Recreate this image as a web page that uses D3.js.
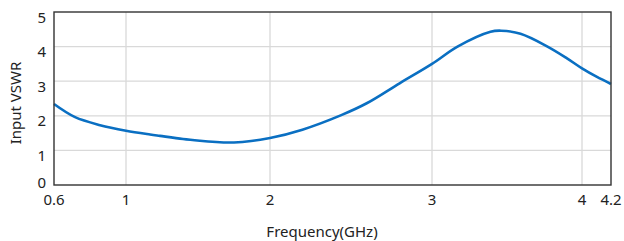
<!DOCTYPE html>
<html>
<script src='https://d3js.org/d3.v7.min.js'></script>
<style>
 body {margin: 0; background: #fff;}
 text {font-family: 'Noto Sans', 'Open Sans', sans-serif; font-size: 15px; fill: #222;}
</style>
<body onload='init()'>
<svg width=624 height=241></svg>
<script>
// frequency (GHz) and input VSWR
var freq = [0.6, 0.717, 0.856, 1.0, 1.167, 1.236, 1.396, 1.514, 1.6, 1.75, 2.0, 2.2, 2.44, 2.6, 2.8, 3.0, 3.17, 3.39, 3.46, 3.59, 3.77, 3.9, 4.0, 4.1, 4.2];
var vswr = [2.34, 1.96, 1.73, 1.57, 1.46, 1.42, 1.33, 1.28, 1.25, 1.23, 1.36, 1.60, 2.02, 2.37, 2.94, 3.5, 4.0, 4.43, 4.46, 4.37, 4.0, 3.66, 3.37, 3.13, 2.92];
var xTicks = [0.6, 1, 2, 3, 4, 4.2];
var yTicks = [0, 1, 2, 3, 4, 5];

function init() {
 var svg = d3.select("svg");
 // the original axis is not evenly spaced, so map each labelled tick to its place
 var x = d3.scaleLinear().domain(xTicks).range([54, 126, 270, 432, 582, 611]);
 var y = d3.scaleLinear().domain([0, 5]).range([185, 12]);

 var g = svg.append("g");
 g.selectAll(".vg").data(xTicks.slice(1, -1)).enter().append("line")
  .attr("x1", d => x(d)).attr("x2", d => x(d))
  .attr("y1", y(0)).attr("y2", y(5))
  .attr("stroke", "#d9d9d9").attr("stroke-width", 1.3);
 g.selectAll(".hg").data(yTicks.slice(1, -1)).enter().append("line")
  .attr("x1", x(0.6)).attr("x2", x(4.2))
  .attr("y1", d => y(d)).attr("y2", d => y(d))
  .attr("stroke", "#d9d9d9").attr("stroke-width", 1.3);

 var line = d3.line().x((d, i) => x(freq[i])).y(d => y(d)).curve(d3.curveCatmullRom.alpha(0.5));
 g.append("path").datum(vswr).attr("d", line)
  .attr("fill", "none").attr("stroke", "#0a6fc2").attr("stroke-width", 2.6);

 g.append("rect").attr("x", x(0.6)).attr("y", y(5))
  .attr("width", x(4.2) - x(0.6)).attr("height", y(0) - y(5))
  .attr("fill", "none").attr("stroke", "#333").attr("stroke-width", 1.4);

 g.selectAll(".xt").data(xTicks).enter().append("text")
  .attr("x", d => x(d)).attr("y", 205).attr("text-anchor", "middle").text(d => d);
 // labels sit just below their gridline, the 0 is pulled up above the axis label row
 g.selectAll(".yt").data(yTicks).enter().append("text")
  .attr("x", 46).attr("y", d => d === 0 ? y(d) + 3 : y(d) + 10.5)
  .attr("text-anchor", "end").text(d => d);

 svg.append("text").attr("transform", "translate(21,103) rotate(-90)")
  .attr("text-anchor", "middle").text("Input VSWR");
 svg.append("text").attr("x", 322).attr("y", 237)
  .attr("text-anchor", "middle").text("Frequency(GHz)");
}
</script>
</body>
</html>
